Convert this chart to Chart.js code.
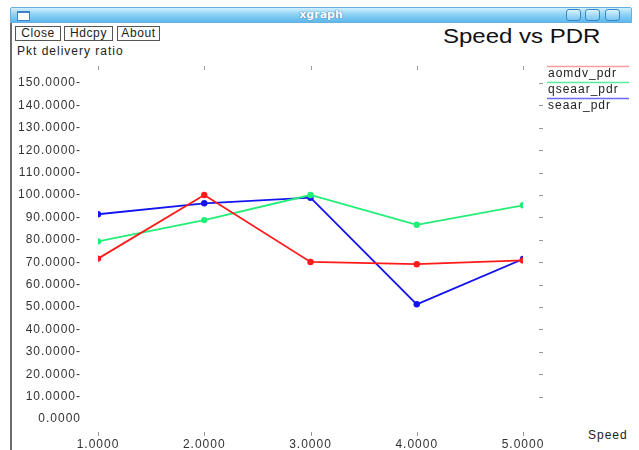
<!DOCTYPE html>
<html>
<head>
<meta charset="utf-8">
<script src="https://cdn.jsdelivr.net/npm/chart.js@4"></script>
<style>
  html, body { margin: 0; padding: 0; background: #fff; }
  body { width: 639px; height: 450px; position: relative; overflow: hidden; font-family: "Liberation Sans", sans-serif; }
  #titlebar {
    position: absolute; left: 10px; top: 7px; width: 622px; height: 16px;
    background: linear-gradient(#d2f0fc, #8fd3f5 45%, #5cb9ee);
    border: 1px solid #6aaedb; box-sizing: border-box; border-radius: 2px 2px 0 0;
  }
  #titlebar .name {
    position: absolute; left: 0; right: 0; top: 0; text-align: center;
    font: bold 11px "DejaVu Sans", sans-serif; color: #fff; line-height: 14px;
    text-shadow: 0 0 1px #2a6fb8, 0 0 1px #2a6fb8;
  }
  #titlebar .icon {
    position: absolute; left: 6px; top: 3px; width: 11px; height: 7px;
    background: #fff; border: 1px solid #3f80c8; border-top-width: 2px;
  }
  .wbtn {
    position: absolute; top: 1px; width: 15px; height: 12px; border-radius: 3px;
    border: 1px solid #3b86c8; background: linear-gradient(#d8f2fd, #79c6f1); box-sizing: border-box;
  }
  #leftborder { position: absolute; left: 10px; top: 23px; width: 2px; height: 427px; background: #6b6b6b; }
  .btn {
    position: absolute; top: 26px; height: 15px; box-sizing: border-box;
    border: 1px solid #555; font: 12px "Liberation Sans", sans-serif; letter-spacing: 0.6px; color: #222;
    line-height: 13px; text-align: center; background: #fff;
  }
  .txt { position: absolute; color: #222; white-space: nowrap; font: 12px "Liberation Sans", sans-serif; letter-spacing: 1px; }
  #chart { position: absolute; left: 0; top: 0; }
</style>
</head>
<body>
<div id="titlebar">
  <div class="icon"></div>
  <div class="name">xgraph</div>
  <div class="wbtn" style="left:555px"></div>
  <div class="wbtn" style="left:574px"></div>
  <div class="wbtn" style="left:594px"></div>
</div>
<div id="leftborder"></div>
<div class="btn" style="left:15px;width:46px">Close</div>
<div class="btn" style="left:64px;width:49px">Hdcpy</div>
<div class="btn" style="left:117px;width:43px">About</div>
<div class="txt" style="left:17px;top:44px">Pkt delivery ratio</div>
<div class="txt" style="left:443px;top:25px;font-size:20px;letter-spacing:0;color:#111;transform:scaleX(1.2);transform-origin:left top">Speed vs PDR</div>
<div class="txt" style="left:588px;top:428px">Speed</div>
<canvas id="chart" width="639" height="450"></canvas>
<script>
const speeds = [1, 2, 3, 4, 5];
const aomdvPdr = [71.6, 100.0, 70.1, 69.1, 70.8];
const qseaarPdr = [79.3, 88.8, 100.0, 86.7, 95.4];
const seaarPdr = [91.4, 96.3, 98.8, 51.2, 71.4];
const yTicks = [0, 10, 20, 30, 40, 50, 60, 70, 80, 90, 100, 110, 120, 130, 140, 150];

const toPoints = vals => vals.map((v, i) => ({ x: speeds[i], y: v }));
const labelFont = { family: "Liberation Sans", size: 12 };

// xgraph style tick marks and legend
const xgraphMarks = {
  id: "xgraphMarks",
  beforeDraw(chart) {
    chart.ctx.letterSpacing = "1px";
  },
  afterDraw(chart) {
    const ctx = chart.ctx;
    const xs = chart.scales.x, ys = chart.scales.y;
    ctx.save();
    ctx.strokeStyle = "#9a9a9a";
    ctx.lineWidth = 1;
    speeds.forEach(s => {
      const px = Math.round(xs.getPixelForValue(s)) + 0.5;
      ctx.beginPath();
      ctx.moveTo(px, 66); ctx.lineTo(px, 70);
      ctx.moveTo(px, 432); ctx.lineTo(px, 436);
      ctx.stroke();
    });
    yTicks.forEach(t => {
      if (t === 0) return;
      const py = Math.round(ys.getPixelForValue(t)) + 0.5;
      ctx.beginPath();
      ctx.moveTo(539, py); ctx.lineTo(543, py);
      ctx.stroke();
    });
    // legend
    ctx.font = "12px 'Liberation Sans', sans-serif";
    ctx.textBaseline = "middle";
    ctx.fillStyle = "#222";
    chart.data.datasets.forEach((ds, i) => {
      const ly = 66.5 + i * 16;
      ctx.strokeStyle = ds.legendColor;
      ctx.lineWidth = 1.5;
      ctx.beginPath();
      ctx.moveTo(547, ly); ctx.lineTo(629, ly);
      ctx.stroke();
      ctx.fillText(ds.label, 548, ly + 7);
    });
    ctx.restore();
  }
};

new Chart(document.getElementById("chart"), {
  type: "line",
  data: {
    datasets: [
      { label: "aomdv_pdr", data: toPoints(aomdvPdr), borderColor: "#ff1a1a", backgroundColor: "#ff1a1a", legendColor: "#ff9a9a" },
      { label: "qseaar_pdr", data: toPoints(qseaarPdr), borderColor: "#22ee77", backgroundColor: "#22ee77", legendColor: "#55f09a" },
      { label: "seaar_pdr", data: toPoints(seaarPdr), borderColor: "#1414f0", backgroundColor: "#1414f0", legendColor: "#6a6af5" }
    ]
  },
  options: {
    responsive: false,
    animation: false,
    events: [],
    layout: { padding: { left: 0, right: 116, top: 83, bottom: 0 } },
    elements: {
      line: { borderWidth: 1.8, tension: 0 },
      point: { radius: 3.2, borderWidth: 0 }
    },
    plugins: { legend: { display: false }, tooltip: { enabled: false }, title: { display: false } },
    scales: {
      x: {
        type: "linear", min: 1, max: 5,
        grid: { display: false, drawTicks: false }, border: { display: false },
        afterFit: s => { s.height = 31; },
        afterBuildTicks: s => { s.ticks = speeds.map(v => ({ value: v })); },
        ticks: {
          padding: 18, color: "#333", maxRotation: 0,
          font: labelFont,
          callback: v => Number(v).toFixed(4)
        }
      },
      y: {
        min: 0, max: 150,
        grid: { display: false, drawTicks: false }, border: { display: false },
        afterFit: s => { s.width = 98; },
        afterBuildTicks: s => { s.ticks = yTicks.map(v => ({ value: v })); },
        ticks: {
          padding: 17, color: "#333",
          font: labelFont,
          callback: v => v === 0 ? "0.0000" : Number(v).toFixed(4) + "-"
        }
      }
    }
  },
  plugins: [xgraphMarks]
});
</script>
</body>
</html>
